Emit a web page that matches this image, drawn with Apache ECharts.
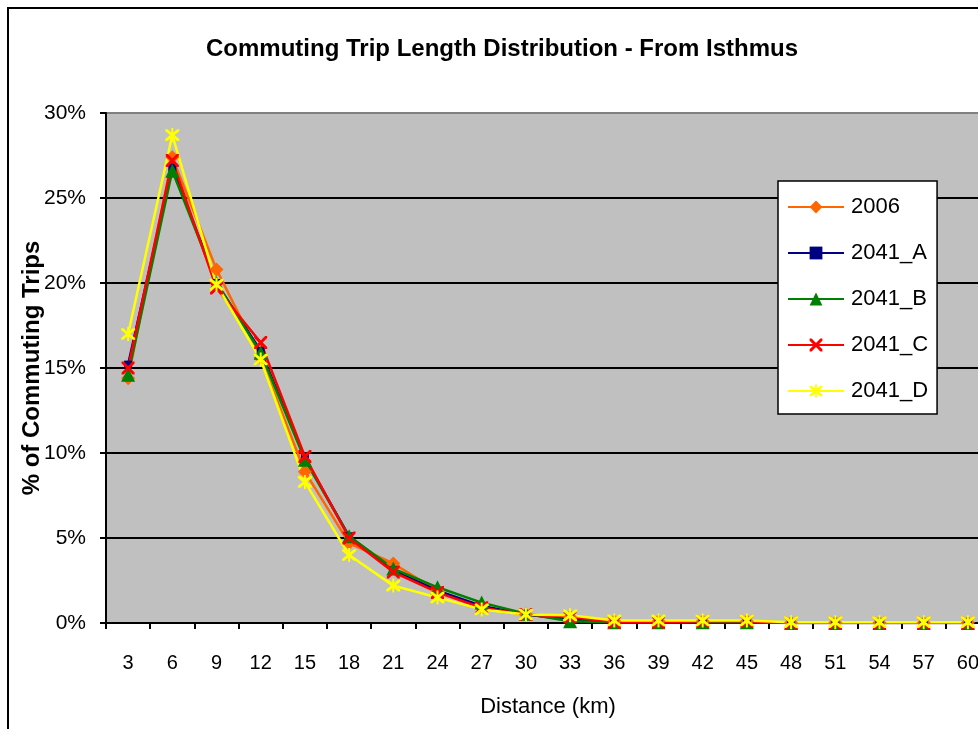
<!DOCTYPE html>
<html>
<head>
<meta charset="utf-8">
<script src="https://cdn.jsdelivr.net/npm/echarts@6/dist/echarts.min.js"></script>
<style>
html,body{margin:0;padding:0;background:#fff;}
#chart{width:978px;height:729px;}
</style>
</head>
<body>
<div id="chart"></div>
<script>
const categories = ['3','6','9','12','15','18','21','24','27','30','33','36','39','42','45','48','51','54','57','60'];
const s2006  = [14.4, 27.4, 20.8, 15.6, 8.9, 4.7, 3.5, 1.9, 0.9, 0.5, 0.35, 0.1, 0.1, 0.1, 0.1, 0.02, 0.02, 0.02, 0.02, 0.02];
const s2041A = [15.2, 26.8, 20.0, 16.0, 9.7, 5.1, 3.1, 1.9, 1.0, 0.5, 0.2, 0.05, 0.05, 0.05, 0.05, 0.0, 0.0, 0.0, 0.0, 0.0];
const s2041B = [14.6, 26.6, 20.0, 15.9, 9.6, 5.1, 3.2, 2.1, 1.2, 0.55, 0.1, 0.05, 0.05, 0.05, 0.05, 0.0, 0.0, 0.0, 0.0, 0.0];
const s2041C = [15.0, 27.2, 19.7, 16.5, 9.8, 5.0, 3.0, 1.8, 0.9, 0.5, 0.35, 0.05, 0.05, 0.1, 0.1, 0.0, 0.0, 0.0, 0.0, 0.0];
const s2041D = [17.0, 28.7, 19.9, 15.5, 8.3, 4.0, 2.2, 1.5, 0.8, 0.5, 0.45, 0.15, 0.15, 0.15, 0.15, 0.05, 0.05, 0.05, 0.05, 0.05];
const seriesNames = ['2006','2041_A','2041_B','2041_C','2041_D'];
const yTicks = [0,5,10,15,20,25,30];

const crossPath = 'path://M0,0 L1.6,0 L5,3.4 L8.4,0 L10,0 L10,1.6 L6.6,5 L10,8.4 L10,10 L8.4,10 L5,6.6 L1.6,10 L0,10 L0,8.4 L3.4,5 L0,1.6 Z';
const starPath = 'path://M0,0 L1.6,0 L5,3.4 L8.4,0 L10,0 L10,1.6 L6.6,5 L10,8.4 L10,10 L8.4,10 L5,6.6 L1.6,10 L0,10 L0,8.4 L3.4,5 L0,1.6 Z M4.3,-1 L5.7,-1 L5.7,11 L4.3,11 Z';

const FONT = '"Liberation Sans", Arial, sans-serif';

function mk(name, data, color, symbol, size) {
  return {
    name: name, type: 'line', data: data,
    symbol: symbol, symbolSize: size,
    lineStyle: {color: color, width: 2.5},
    itemStyle: {color: color},
    emphasis: {disabled: true},
    animation: false
  };
}

const chart = echarts.init(document.getElementById('chart'));
chart.setOption({
  animation: false,
  backgroundColor: '#ffffff',
  title: {
    text: 'Commuting Trip Length Distribution - From Isthmus',
    left: 497, top: 32, textAlign: 'center',
    textStyle: {fontFamily: FONT, fontWeight: 'bold', fontSize: 24, color: '#000'}
  },
  graphic: [{
    type: 'rect', shape: {x: 8, y: 8, width: 1100, height: 1100},
    style: {fill: null, stroke: '#000', lineWidth: 2}, silent: true, z: 100
  }],
  grid: {
    left: 106, top: 113, width: 884, height: 510,
    outerBoundsMode: 'none', containLabel: false,
    show: true, backgroundColor: '#c0c0c0', borderColor: '#808080', borderWidth: 2
  },
  legend: {
    orient: 'vertical', left: 778, top: 181,
    data: seriesNames,
    backgroundColor: '#ffffff', borderColor: '#000', borderWidth: 1.5,
    padding: [15, 9, 12, 9],
    itemWidth: 56, itemHeight: 16, itemGap: 24,
    textStyle: {fontFamily: FONT, fontSize: 22, color: '#000', lineHeight: 22, padding: [0,0,0,2]}
  },
  xAxis: {
    type: 'category', data: categories, boundaryGap: true,
    name: 'Distance (km)', nameLocation: 'middle', nameGap: 73, nameMoveOverlap: false,
    nameTextStyle: {fontFamily: FONT, fontSize: 22, color: '#000'},
    axisLine: {lineStyle: {color: '#000', width: 2}},
    axisTick: {show: true, length: 6, lineStyle: {color: '#000', width: 2}},
    axisLabel: {fontFamily: FONT, fontSize: 20, color: '#000', margin: 30, interval: 0},
    splitLine: {show: false}
  },
  yAxis: {
    type: 'value', min: 0, max: 30, interval: 5,
    name: '% of Commuting Trips', nameLocation: 'middle', nameGap: 62, nameMoveOverlap: false,
    nameTextStyle: {fontFamily: FONT, fontSize: 24, fontWeight: 'bold', color: '#000'},
    axisLine: {show: true, lineStyle: {color: '#000', width: 2}},
    axisTick: {show: true, length: 6, lineStyle: {color: '#000', width: 2}},
    axisLabel: {fontFamily: FONT, fontSize: 21, color: '#000', margin: 20,
      formatter: function (v) { return yTicks.indexOf(v) >= 0 ? v + '%' : ''; }},
    splitLine: {show: true, lineStyle: {color: ['#000','#000','#000','#000','#000','#000','#808080'], width: 2}}
  },
  series: [
    mk('2006', s2006, '#ff6600', 'diamond', 14),
    mk('2041_A', s2041A, '#000080', 'rect', 8),
    mk('2041_B', s2041B, '#008000', 'triangle', 14),
    mk('2041_C', s2041C, '#ff0000', crossPath, 13),
    mk('2041_D', s2041D, '#ffff00', starPath, 14)
  ]
});
</script>
</body>
</html>
